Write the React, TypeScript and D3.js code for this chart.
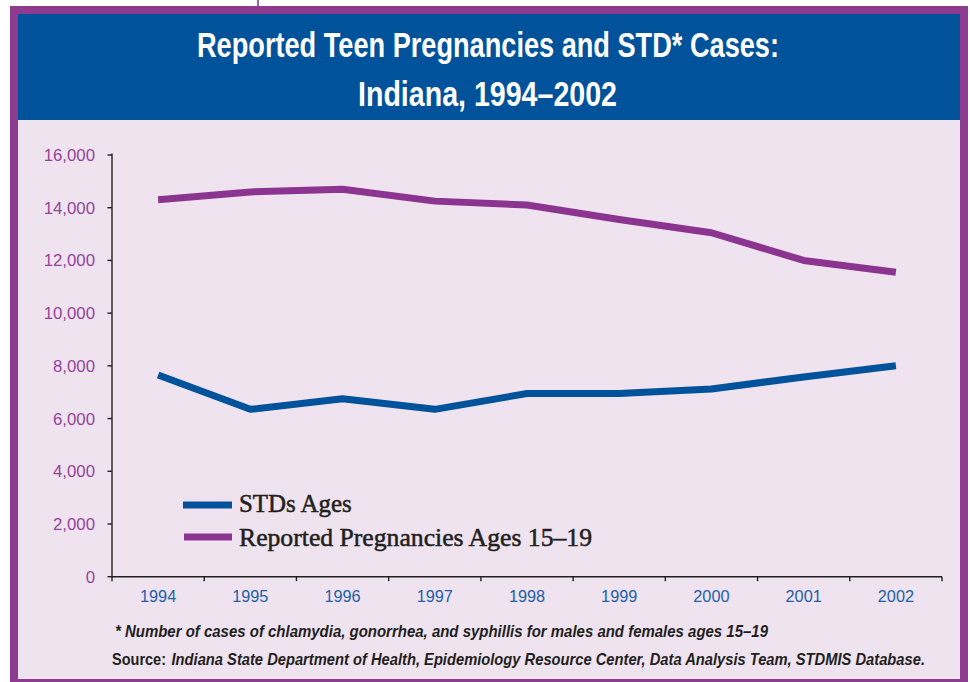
import React from "react";
import * as d3 from "d3";

const years = ["1994", "1995", "1996", "1997", "1998", "1999", "2000", "2001", "2002"];
const stdValues = [7650, 6350, 6750, 6350, 6950, 6950, 7120, 7580, 8000];
const pregValues = [14300, 14600, 14700, 14250, 14100, 13550, 13050, 12000, 11550];
const yTicks = [0, 2000, 4000, 6000, 8000, 10000, 12000, 14000, 16000];
const seriesNames = ["STDs Ages", "Reported Pregnancies Ages 15\u201319"];
const titleLines = ["Reported Teen Pregnancies and STD* Cases:", "Indiana, 1994\u20132002"];
const footnote = "* Number of cases of chlamydia, gonorrhea, and syphillis for males and females ages 15\u201319";
const sourceLabel = "Source:";
const sourceText = "Indiana State Department of Health, Epidemiology Resource Center, Data Analysis Team, STDMIS Database.";

const BLUE = "#00529B";
const PURPLE = "#8C3590";
const FRAME = "#8E3A8F";
const BG = "#EFE3F0";
const INK = "#231F20";
const SX = 0.8;

export default function App() {
  const x = d3.scaleBand<string>().domain(years).range([112, 942]).paddingInner(0).paddingOuter(0);
  const y = d3.scaleLinear().domain([0, 16000]).range([576.7, 155]);
  const cx = (d: string) => (x(d) as number) + x.bandwidth() / 2;

  const line = d3
    .line<number>()
    .x((_, i) => cx(years[i]))
    .y((v) => y(v))
    .curve(d3.curveLinear);

  const boundaries = years.map((d) => x(d) as number).concat([942]);
  const sans = "'Liberation Sans', Arial, Helvetica, sans-serif";
  const serif = "'Liberation Serif', 'Times New Roman', serif";

  return (
    <svg
      width={970}
      height={682}
      style={{ position: "absolute", left: 0, top: 0, background: "#fff" }}
    >
      <rect x={0} y={0} width={970} height={682} fill="#fff" />
      <line x1={258} x2={258} y1={0} y2={7} stroke={FRAME} strokeWidth={1.6} />
      <rect x={10} y={6} width={958} height={690} fill={FRAME} />
      <rect x={18} y={14} width={942} height={665} fill={BG} />
      <rect x={18} y={14} width={942} height={106} fill={BLUE} />

      <g transform={`scale(${SX},1)`}>
        <text
          x={197 / SX}
          y={56.7}
          fill="#fff"
          fontFamily={sans}
          fontWeight="bold"
          fontSize={35.5}
          textLength={582 / SX}
          lengthAdjust="spacingAndGlyphs"
        >
          {titleLines[0]}
        </text>
        <text
          x={358 / SX}
          y={106}
          fill="#fff"
          fontFamily={sans}
          fontWeight="bold"
          fontSize={35.5}
          textLength={259 / SX}
          lengthAdjust="spacingAndGlyphs"
        >
          {titleLines[1]}
        </text>
      </g>

      {/* Y axis */}
      <line x1={112} x2={112} y1={153.5} y2={y(0)} stroke={INK} strokeWidth={1.4} />
      {yTicks.map((t) => (
        <g key={t}>
          <line x1={107.5} x2={112} y1={y(t)} y2={y(t)} stroke={INK} strokeWidth={1.4} />
          <text
            x={95}
            y={y(t)}
            dy="0.36em"
            textAnchor="end"
            fill="#93449A"
            fontFamily={sans}
            fontSize={16.8}
          >
            {d3.format(",")(t)}
          </text>
        </g>
      ))}

      {/* X axis */}
      <line x1={112} x2={942} y1={y(0)} y2={y(0)} stroke={INK} strokeWidth={1.4} />
      {boundaries.map((b, i) => (
        <line key={i} x1={b} x2={b} y1={y(0)} y2={y(0) + 4.5} stroke={INK} strokeWidth={1.4} />
      ))}
      {years.map((d) => (
        <text
          key={d}
          x={cx(d)}
          y={601.7}
          textAnchor="middle"
          fill="#1F5FA8"
          fontFamily={sans}
          fontSize={16.3}
        >
          {d}
        </text>
      ))}

      {/* Lines */}
      <path d={line(pregValues) || ""} fill="none" stroke={PURPLE} strokeWidth={7} strokeLinejoin="round" />
      <path d={line(stdValues) || ""} fill="none" stroke={BLUE} strokeWidth={7} strokeLinejoin="round" />

      {/* Legend */}
      <line x1={183} x2={232} y1={505} y2={505} stroke={BLUE} strokeWidth={7} />
      <text
        x={239}
        y={512}
        fill={INK}
        stroke={INK}
        strokeWidth={0.5}
        fontFamily={serif}
        fontSize={24.5}
        textLength={112.7}
        lengthAdjust="spacingAndGlyphs"
      >
        {seriesNames[0]}
      </text>
      <line x1={184} x2={232} y1={537} y2={537} stroke={PURPLE} strokeWidth={7} />
      <text
        x={239}
        y={545.5}
        fill={INK}
        stroke={INK}
        strokeWidth={0.5}
        fontFamily={serif}
        fontSize={24.5}
        textLength={353}
        lengthAdjust="spacingAndGlyphs"
      >
        {seriesNames[1]}
      </text>

      {/* Footnotes */}
      <g transform={`scale(${SX},1)`}>
        <text
          x={115 / SX}
          y={636.7}
          fill={INK}
          fontFamily={sans}
          fontWeight="bold"
          fontStyle="italic"
          fontSize={16}
          textLength={653 / SX}
          lengthAdjust="spacingAndGlyphs"
        >
          {footnote}
        </text>
        <text
          x={112 / SX}
          y={665}
          fill={INK}
          fontFamily={sans}
          fontWeight="bold"
          fontSize={16}
          textLength={54 / SX}
          lengthAdjust="spacingAndGlyphs"
        >
          {sourceLabel}
        </text>
        <text
          x={171.5 / SX}
          y={665}
          fill={INK}
          fontFamily={sans}
          fontWeight="bold"
          fontStyle="italic"
          fontSize={16}
          textLength={753.5 / SX}
          lengthAdjust="spacingAndGlyphs"
        >
          {sourceText}
        </text>
      </g>
    </svg>
  );
}
